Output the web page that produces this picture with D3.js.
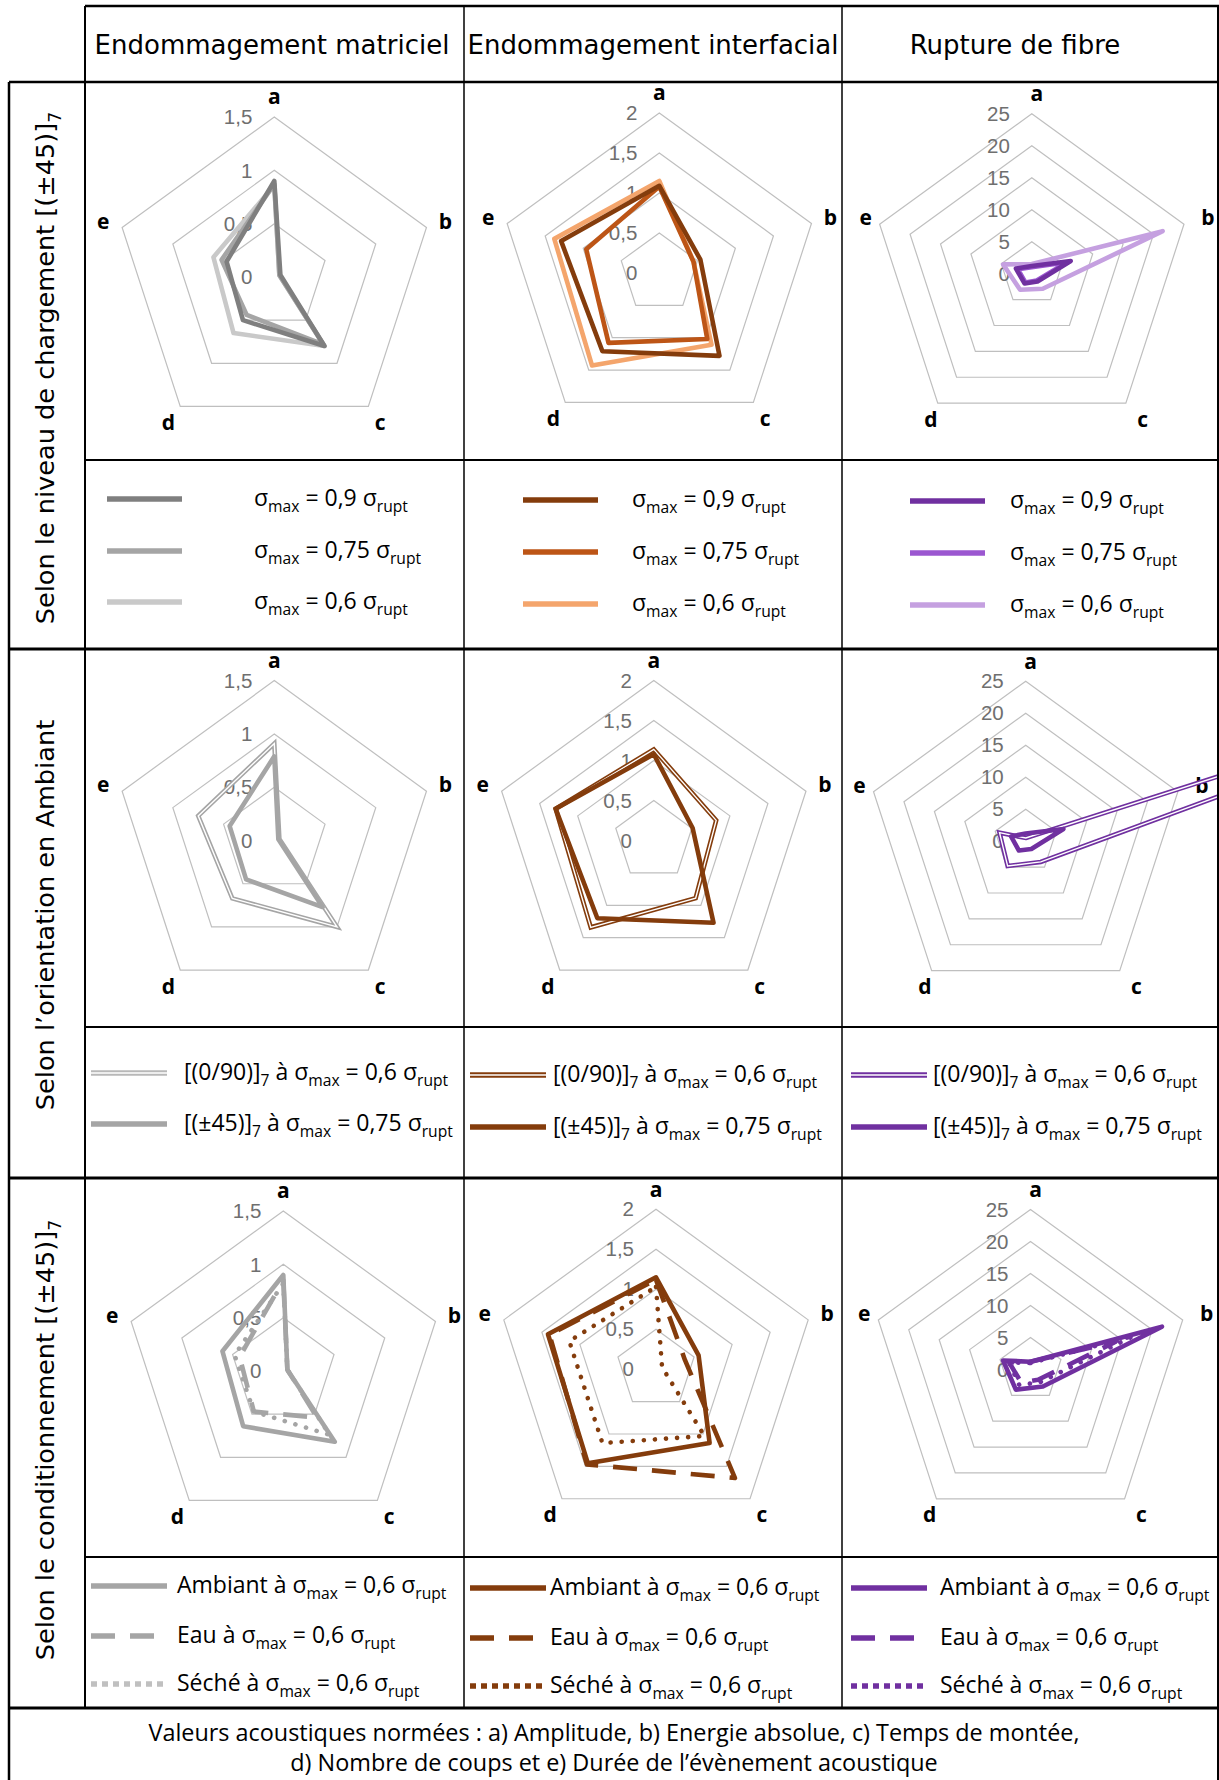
<!DOCTYPE html>
<html><head><meta charset="utf-8">
<script src="https://cdn.jsdelivr.net/npm/d3@7"></script>
<style>body{margin:0;background:#fff}svg{display:block}</style>
</head><body>
<svg id="fig" width="1219" height="1780"></svg>
<script>
// ---------------- DATA ----------------
const axes = ["a", "b", "c", "d", "e"];
const colHeaders = ["Endommagement matriciel", "Endommagement interfacial", "Rupture de fibre"];
const rowLabels = ["Selon le niveau de chargement [(±45)]_{7}", "Selon l’orientation en Ambiant", "Selon le conditionnement [(±45)]_{7}"];
const ticksMatrice = [0, 0.5, 1, 1.5];
const ticksInterface = [0, 0.5, 1, 1.5, 2];
const ticksFibre = [0, 5, 10, 15, 20, 25];
const captionLines = ["Valeurs acoustiques normées : a) Amplitude, b) Energie absolue, c) Temps de montée,", "d) Nombre de coups et e) Durée de l’évènement acoustique"];

// Section 1 : niveau de chargement
const chargeLabels = ["σ_{max} = 0,9 σ_{rupt}", "σ_{max} = 0,75 σ_{rupt}", "σ_{max} = 0,6 σ_{rupt}"];
const charge09Mat = [0.90, 0.06, 0.80, 0.50, 0.47];
const charge075Mat = [0.87, 0.05, 0.78, 0.44, 0.52];
const charge06Mat = [0.86, 0.05, 0.80, 0.65, 0.60];
const charge09Int = [1.09, 0.54, 1.28, 1.21, 1.29];
const charge075Int = [1.08, 0.45, 1.02, 1.08, 0.96];
const charge06Int = [1.15, 0.45, 1.11, 1.43, 1.38];
const charge09Fib = [1.2, 6.4, 1.5, 1.9, 2.6];
const charge075Fib = [1.0, 5.8, 1.3, 1.7, 2.3];
const charge06Fib = [1.5, 21.5, 2.9, 3.1, 4.7];

// Section 2 : orientation
const orientLabels = ["[(0/90)]_{7} à σ_{max} = 0,6 σ_{rupt}", "[(±45)]_{7} à σ_{max} = 0,75 σ_{rupt}"];
const orient090Mat = [0.91, 0.05, 1.00, 0.67, 0.75];
const orient45Mat = [0.79, 0.04, 0.77, 0.45, 0.44];
const orient090Int = [1.14, 0.82, 0.89, 1.34, 1.29];
const orient45Int = [1.08, 0.51, 1.27, 1.20, 1.29];
const orient090Fib = [0.5, 100, 4.0, 4.8, 4.3];
const orient45Fib = [1.2, 6.2, 1.5, 1.8, 2.4];

// Section 3 : conditionnement
const condLabels = ["Ambiant à σ_{max} = 0,6 σ_{rupt}", "Eau à σ_{max} = 0,6 σ_{rupt}", "Séché à σ_{max} = 0,6 σ_{rupt}"];
const condAmbMat = [0.90, 0.04, 0.82, 0.64, 0.60];
const condEauMat = [0.85, 0.04, 0.54, 0.47, 0.43];
const condSecMat = [0.82, 0.04, 0.74, 0.47, 0.48];
const condAmbInt = [1.15, 0.56, 1.14, 1.45, 1.42];
const condEauInt = [1.12, 0.38, 1.68, 1.47, 1.40];
const condSecInt = [1.03, 0.08, 1.03, 1.14, 1.14];
const condAmbFib = [1.2, 21.6, 3.3, 3.9, 4.5];
const condEauFib = [1.2, 14, 2.0, 2.5, 3.5];
const condSecFib = [1.0, 17, 2.5, 3.0, 3.5];

// ---------------- STYLE / LAYOUT ----------------
const GRAY = ["#7f7f7f", "#a5a5a5", "#c9c9c9"];
const BROWN = ["#843c0c", "#bd5516", "#f4a56c"];
const PURPLE = ["#7030a0", "#9b57d0", "#c5a0e0"];
const colX = [85, 464, 842, 1219];
const R = 160;
const FONT_NARROW = "'Liberation Sans Narrow','Open Sans',sans-serif";
const FONT_WIDE = "'DejaVu Sans',Verdana,sans-serif";

const svg = d3.select("#fig");
const defs = svg.append("defs");

// Rich text helper (x_{sub})
function rich(sel, str, size) {
  const parts = str.split(/(_\{[^}]*\})/).filter(s => s.length);
  let sub = false;
  parts.forEach(p => {
    if (p.startsWith("_{")) {
      sel.append("tspan").attr("font-size", size * 0.68).attr("dy", size * 0.28).text(p.slice(2, -1));
      sub = true;
    } else {
      const t = sel.append("tspan").text(p);
      if (sub) { t.attr("dy", -size * 0.28); sub = false; }
    }
  });
}

const styleOf = {
  solid: {},
  dash: { dash: "24 15" },
  dot: { dash: "0.1 11", cap: "round" },
  dotL: { dash: "6 5" },
  double: { double: true }
};

function drawPath(g, d, color, kind, width) {
  const st = styleOf[kind];
  if (st.double) {
    g.append("path").attr("d", d).attr("fill", "none").attr("stroke", color).attr("stroke-width", width).attr("stroke-linejoin", "miter");
    g.append("path").attr("d", d).attr("fill", "none").attr("stroke", "#fff").attr("stroke-width", width * 0.3).attr("stroke-linejoin", "miter");
  } else {
    g.append("path").attr("d", d).attr("fill", "none").attr("stroke", color).attr("stroke-width", width)
      .attr("stroke-dasharray", st.dash || null).attr("stroke-linecap", st.cap || "butt").attr("stroke-linejoin", "round");
  }
}

let clipId = 0;
function radar(cell, cx, cy, ticks, series, labelDx) {
  const id = "clip" + (clipId++);
  defs.append("clipPath").attr("id", id).append("rect")
    .attr("x", cell[0]).attr("y", cell[1]).attr("width", cell[2] - cell[0]).attr("height", cell[3] - cell[1]);
  const outer = svg.append("g").attr("clip-path", `url(#${id})`);
  const g = outer.append("g").attr("transform", `translate(${cx},${cy})`);
  const maxV = ticks[ticks.length - 1];
  const r = d3.scaleLinear().domain([0, maxV]).range([0, R]);
  const ang = d3.scalePoint().domain(axes).range([0, 2 * Math.PI * 4 / 5]);
  const line = d3.lineRadial().angle((d, i) => ang(axes[i])).radius(d => r(d)).curve(d3.curveLinearClosed);
  // rings
  ticks.filter(t => t > 0).forEach(t => {
    g.append("path").attr("d", line(axes.map(() => t))).attr("fill", "none").attr("stroke", "#bfbfbf").attr("stroke-width", 1.2);
  });
  // tick labels
  ticks.forEach(t => {
    g.append("text").attr("x", -22).attr("y", -r(t)).attr("dy", "0.35em").attr("text-anchor", "end")
      .attr("font-family", "'Liberation Sans','Open Sans',sans-serif").attr("font-size", 20.5).attr("fill", "#6f6f6f")
      .text(d3.format(",")(t).replace(".", ","));
  });
  // axis letters
  axes.forEach(a => {
    const th = ang(a);
    const rr = R + 20;
    g.append("text").attr("x", rr * Math.sin(th) + labelDx).attr("y", -rr * Math.cos(th)).attr("dy", "0.35em")
      .attr("text-anchor", "middle").attr("font-family", "'Open Sans','DejaVu Sans',sans-serif")
      .attr("font-weight", "bold").attr("font-size", 21).attr("fill", "#000").text(a);
  });
  // series
  series.forEach(s => drawPath(g, line(s.values), s.color, s.kind, 4.6));
}

function legend(items, lx0, lx1, tx, ys, size) {
  items.forEach((it, i) => {
    const y = ys[i];
    drawPath(svg, `M${lx0},${y}L${lx1},${y}`, it.color, it.kind === "dot" ? "dotL" : it.kind, 5.5);
    const t = svg.append("text").attr("x", tx).attr("y", y).attr("dy", "0.3em")
      .attr("font-family", FONT_NARROW).attr("font-size", size).attr("fill", "#000");
    rich(t, it.label, size);
  });
}

// ---------------- TABLE ----------------
const lines = svg.append("g").attr("stroke", "#000");
function hline(y, x0, x1, w) { lines.append("line").attr("x1", x0).attr("x2", x1).attr("y1", y).attr("y2", y).attr("stroke-width", w); }
function vline(x, y0, y1, w) { lines.append("line").attr("x1", x).attr("x2", x).attr("y1", y0).attr("y2", y1).attr("stroke-width", w); }

// ---------------- CHARTS ----------------
const sections = [
  { top: 82, mid: 460, bot: 649,
    centers: [[274.3, 277], [659.3, 273], [1031.8, 273.7]],
    charts: [
      [{ values: charge06Mat, color: GRAY[2], kind: "solid" }, { values: charge075Mat, color: GRAY[1], kind: "solid" }, { values: charge09Mat, color: GRAY[0], kind: "solid" }],
      [{ values: charge06Int, color: BROWN[2], kind: "solid" }, { values: charge075Int, color: BROWN[1], kind: "solid" }, { values: charge09Int, color: BROWN[0], kind: "solid" }],
      [{ values: charge06Fib, color: PURPLE[2], kind: "solid" }, { values: charge075Fib, color: PURPLE[1], kind: "solid" }, { values: charge09Fib, color: PURPLE[0], kind: "solid" }]
    ],
    legends: [
      { items: chargeLabels.map((l, i) => ({ label: l, color: GRAY[i], kind: "solid" })), lx: [107, 182], tx: 254, ys: [499, 551, 602] },
      { items: chargeLabels.map((l, i) => ({ label: l, color: BROWN[i], kind: "solid" })), lx: [523, 598], tx: 632, ys: [500, 552, 604] },
      { items: chargeLabels.map((l, i) => ({ label: l, color: PURPLE[i], kind: "solid" })), lx: [910, 985], tx: 1010, ys: [501, 553, 605] }
    ]
  },
  { top: 649, mid: 1027, bot: 1178,
    centers: [[274.3, 840.6], [653.8, 840.6], [1025.7, 841.2]],
    charts: [
      [{ values: orient090Mat, color: GRAY[1], kind: "double" }, { values: orient45Mat, color: GRAY[1], kind: "solid" }],
      [{ values: orient090Int, color: BROWN[0], kind: "double" }, { values: orient45Int, color: BROWN[0], kind: "solid" }],
      [{ values: orient090Fib, color: PURPLE[0], kind: "double" }, { values: orient45Fib, color: PURPLE[0], kind: "solid" }]
    ],
    legends: [
      { items: [{ label: orientLabels[0], color: "#b8b8b8", kind: "double" }, { label: orientLabels[1], color: GRAY[1], kind: "solid" }], lx: [91, 167], tx: 184, ys: [1073, 1124] },
      { items: [{ label: orientLabels[0], color: BROWN[0], kind: "double" }, { label: orientLabels[1], color: BROWN[0], kind: "solid" }], lx: [470, 546], tx: 553, ys: [1075, 1127] },
      { items: [{ label: orientLabels[0], color: PURPLE[0], kind: "double" }, { label: orientLabels[1], color: PURPLE[0], kind: "solid" }], lx: [851, 927], tx: 933, ys: [1075, 1127] }
    ]
  },
  { top: 1178, mid: 1557, bot: 1708,
    centers: [[283.3, 1371], [656, 1369.3], [1030.5, 1369.4]],
    charts: [
      [{ values: condAmbMat, color: GRAY[1], kind: "solid" }, { values: condEauMat, color: GRAY[1], kind: "dash" }, { values: condSecMat, color: GRAY[1], kind: "dot" }],
      [{ values: condAmbInt, color: BROWN[0], kind: "solid" }, { values: condEauInt, color: BROWN[0], kind: "dash" }, { values: condSecInt, color: BROWN[0], kind: "dot" }],
      [{ values: condAmbFib, color: PURPLE[0], kind: "solid" }, { values: condEauFib, color: PURPLE[0], kind: "dash" }, { values: condSecFib, color: PURPLE[0], kind: "dot" }]
    ],
    legends: [
      { items: [{ label: condLabels[0], color: GRAY[1], kind: "solid" }, { label: condLabels[1], color: GRAY[1], kind: "dash" }, { label: condLabels[2], color: "#c0c0c0", kind: "dot" }], lx: [91, 167], tx: 177, ys: [1586, 1636, 1684] },
      { items: [{ label: condLabels[0], color: BROWN[0], kind: "solid" }, { label: condLabels[1], color: BROWN[0], kind: "dash" }, { label: condLabels[2], color: BROWN[0], kind: "dot" }], lx: [470, 546], tx: 550, ys: [1588, 1638, 1686] },
      { items: [{ label: condLabels[0], color: PURPLE[0], kind: "solid" }, { label: condLabels[1], color: PURPLE[0], kind: "dash" }, { label: condLabels[2], color: PURPLE[0], kind: "dot" }], lx: [851, 927], tx: 940, ys: [1588, 1638, 1686] }
    ]
  }
];
const tickSets = [ticksMatrice, ticksInterface, ticksFibre];
const labelShift = [0, 0, 5];

sections.forEach(sec => {
  sec.charts.forEach((series, c) => {
    const [cx, cy] = sec.centers[c];
    radar([colX[c], sec.top, colX[c + 1], sec.mid], cx, cy, tickSets[c], series, labelShift[c]);
  });
  sec.legends.forEach(L => legend(L.items, L.lx[0], L.lx[1], L.tx, L.ys, 23));
});

// headers
const headerX = [272, 653, 1015];
colHeaders.forEach((h, i) => {
  svg.append("text").attr("x", headerX[i]).attr("y", 45).attr("dy", "0.35em").attr("text-anchor", "middle")
    .attr("font-family", FONT_WIDE).attr("font-size", 26).attr("fill", "#000").text(h);
});
// row labels
const rowCenters = [[45, 368], [45, 915], [45, 1440]];
rowLabels.forEach((l, i) => {
  const t = svg.append("text").attr("transform", `translate(${rowCenters[i][0]},${rowCenters[i][1]}) rotate(-90)`)
    .attr("dy", "0.35em").attr("text-anchor", "middle").attr("font-family", FONT_WIDE).attr("font-size", 25.6).attr("fill", "#000");
  rich(t, l, 25.6);
});
// caption
captionLines.forEach((l, i) => {
  svg.append("text").attr("x", 614).attr("y", [1733, 1763][i]).attr("dy", "0.35em").attr("text-anchor", "middle")
    .attr("font-family", FONT_NARROW).attr("font-size", 23.4).attr("fill", "#000").text(l);
});

// grid lines (drawn last)
svg.node().appendChild(lines.node());
hline(6, 85, 1219, 2.5);
hline(82, 9, 1219, 2.5);
hline(460, 85, 1219, 2);
hline(649, 9, 1219, 3);
hline(1027, 85, 1219, 2);
hline(1178, 9, 1219, 3);
hline(1557, 85, 1219, 2);
hline(1708, 9, 1219, 3);
vline(9, 82, 1780, 2.5);
vline(85, 6, 1708, 2);
vline(464, 6, 1708, 1.5);
vline(842, 6, 1708, 1.5);
vline(1218, 6, 1780, 2);
</script>
</body></html>
